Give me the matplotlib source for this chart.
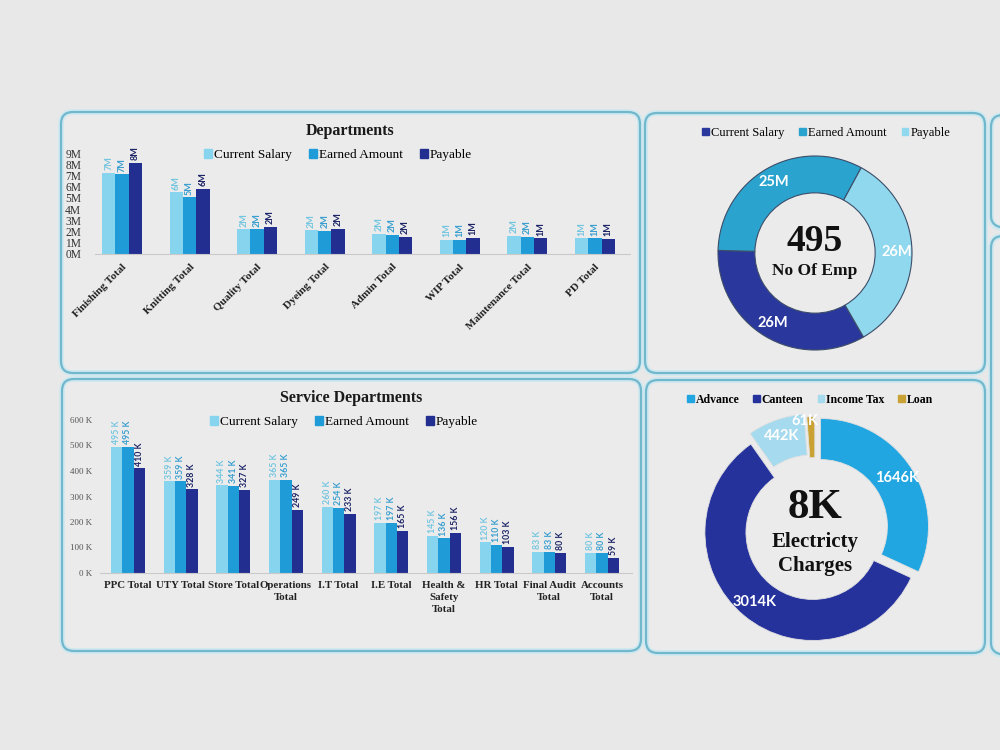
import matplotlib
matplotlib.use('Agg')
import matplotlib.pyplot as plt
from matplotlib.patches import FancyBboxPatch, Patch
import numpy as np

# ---------------- data ----------------
series_names = ["Current Salary", "Earned Amount", "Payable"]

dept_categories = ["Finishing Total", "Knitting Total", "Quality Total", "Dyeing Total",
                   "Admin Total", "WIP Total", "Maintenance Total", "PD Total"]
dept_current = [7.2, 5.5, 2.2, 2.1, 1.8, 1.25, 1.6, 1.4]
dept_earned = [7.1, 5.05, 2.2, 2.05, 1.7, 1.25, 1.55, 1.4]
dept_payable = [8.1, 5.8, 2.45, 2.25, 1.55, 1.45, 1.4, 1.38]
dept_current_lbl = ["7M", "6M", "2M", "2M", "2M", "1M", "2M", "1M"]
dept_earned_lbl = ["7M", "5M", "2M", "2M", "2M", "1M", "2M", "1M"]
dept_payable_lbl = ["8M", "6M", "2M", "2M", "2M", "1M", "1M", "1M"]
dept_yticks = [0, 1, 2, 3, 4, 5, 6, 7, 8, 9]
dept_yticklabels = ["0M", "1M", "2M", "3M", "4M", "5M", "6M", "7M", "8M", "9M"]

svc_categories = ["PPC Total", "UTY Total", "Store Total", "Operations\nTotal", "I.T Total",
                  "I.E Total", "Health &\nSafety\nTotal", "HR Total", "Final Audit\nTotal",
                  "Accounts\nTotal"]
svc_current = [495, 359, 344, 365, 260, 197, 145, 120, 83, 80]
svc_earned = [495, 359, 341, 365, 254, 197, 136, 110, 83, 80]
svc_payable = [410, 328, 327, 249, 233, 165, 156, 103, 80, 59]
svc_yticks = [0, 100, 200, 300, 400, 500, 600]
svc_yticklabels = ["0 K", "100 K", "200 K", "300 K", "400 K", "500 K", "600 K"]

emp_names = ["Current Salary", "Earned Amount", "Payable"]
emp_values = [26, 25, 26]
emp_labels = ["26M", "25M", "26M"]
emp_count = "495"
emp_caption = "No Of Emp"

ded_names = ["Advance", "Canteen", "Income Tax", "Loan"]
ded_values = [1646, 3014, 442, 61]
ded_labels = ["1646K", "3014K", "442K", "61K"]
elec_value = "8K"
elec_caption = "Electricty\nCharges"

# ---------------- style ----------------
BG = '#e8e8e8'
PANEL = '#ebebeb'
C_CUR = '#86d4ee'
C_EARN = '#1f9bd7'
C_PAY = '#222f90'
SERIF = 'Liberation Serif'
SANS = 'Lato'

fig = plt.figure(figsize=(10, 7.5), dpi=100, facecolor=BG)


def frac(x0, y0, x1, y1):
    return [x0 / 1000, 1 - y1 / 750, (x1 - x0) / 1000, (y1 - y0) / 750]


# background panels
bg = fig.add_axes([0, 0, 1, 1], zorder=0)
bg.set_xlim(0, 1000)
bg.set_ylim(750, 0)
bg.axis('off')


def panel(x0, y0, x1, y1):
    bg.add_patch(FancyBboxPatch((x0, y0), x1 - x0, y1 - y0,
                                boxstyle="round,pad=0,rounding_size=12",
                                fc=PANEL, ec='#cde8f0', lw=4))
    bg.add_patch(FancyBboxPatch((x0, y0), x1 - x0, y1 - y0,
                                boxstyle="round,pad=0,rounding_size=12",
                                fc='none', ec='#72b8cc', lw=1.6))


panel(61, 112, 640, 373)
panel(645, 113, 985, 373)
panel(62, 379, 641, 651)
panel(646, 380, 985, 653)
panel(991, 115, 1020, 228)
panel(991, 236, 1020, 655)


def style_bar_axes(ax):
    ax.set_facecolor('none')
    for s in ['top', 'right', 'left']:
        ax.spines[s].set_visible(False)
    ax.spines['bottom'].set_color('#c9c9c9')
    ax.spines['bottom'].set_linewidth(0.8)
    ax.tick_params(length=0)


# ---------------- Departments ----------------
ax1 = fig.add_axes(frac(95, 153, 630, 254), zorder=1)
style_bar_axes(ax1)
x = np.arange(len(dept_categories))
w = 0.197
b1 = ax1.bar(x - w, dept_current, w, color=C_CUR)
b2 = ax1.bar(x, dept_earned, w, color=C_EARN)
b3 = ax1.bar(x + w, dept_payable, w, color=C_PAY)
for bars, lbls, col in [(b1, dept_current_lbl, '#74c6e0'), (b2, dept_earned_lbl, '#3a9fcf'),
                        (b3, dept_payable_lbl, '#1c2466')]:
    for t in ax1.bar_label(bars, labels=lbls, rotation=90, padding=2, fontsize=6.5,
                           color=col, family=SANS, fontweight='bold'):
        t.set_clip_on(False)
ax1.set_xlim(-0.4, 7.52)
ax1.set_ylim(0, 9)
ax1.set_yticks(dept_yticks)
ax1.set_yticklabels(dept_yticklabels, family=SERIF, fontsize=8.3, color='#333333')
ax1.tick_params(axis='y', pad=10)
ax1.set_xticks(x)
ax1.set_xticklabels(dept_categories, rotation=45, ha='right', rotation_mode='anchor',
                    family=SERIF, fontsize=8, fontweight='bold', color='#222222')
ax1.tick_params(axis='x', pad=6)
fig.text(350 / 1000, 1 - 131 / 750, "Departments", ha='center', va='center',
         family=SERIF, fontsize=11.5, fontweight='bold', color='#1a1a1a')
fig.legend(handles=[Patch(color=C_CUR), Patch(color=C_EARN), Patch(color=C_PAY)],
           labels=series_names, loc='center', bbox_to_anchor=(338 / 1000, 1 - 155 / 750),
           ncol=3, frameon=False, handlelength=0.6, handleheight=0.6, handletextpad=0.15,
           columnspacing=1.3, prop={'family': SERIF, 'size': 9.5})

# ---------------- Service Departments ----------------
ax2 = fig.add_axes(frac(100, 420, 632, 573), zorder=1)
style_bar_axes(ax2)
x2 = np.arange(len(svc_categories))
w2 = 0.215
s1 = ax2.bar(x2 - w2, svc_current, w2, color=C_CUR)
s2 = ax2.bar(x2, svc_earned, w2, color=C_EARN)
s3 = ax2.bar(x2 + w2, svc_payable, w2, color=C_PAY)
for bars, vals, col in [(s1, svc_current, '#74c6e0'), (s2, svc_earned, '#3a9fcf'),
                        (s3, svc_payable, '#1c2466')]:
    for t in ax2.bar_label(bars, labels=[f"{v} K" for v in vals], rotation=90, padding=2,
                           fontsize=6.3, color=col, family=SANS, fontweight='bold'):
        t.set_clip_on(False)
ax2.set_xlim(-0.53, 9.57)
ax2.set_ylim(0, 600)
ax2.set_yticks(svc_yticks)
ax2.set_yticklabels(svc_yticklabels, family=SERIF, fontsize=6.5, color='#555555')
ax2.tick_params(axis='y', pad=6)
ax2.set_xticks(x2)
ax2.set_xticklabels(svc_categories, family=SERIF, fontsize=7.8, fontweight='bold',
                    color='#222222', linespacing=1.4)
ax2.tick_params(axis='x', pad=6)
fig.text(351 / 1000, 1 - 398 / 750, "Service Departments", ha='center', va='center',
         family=SERIF, fontsize=11.5, fontweight='bold', color='#1a1a1a')
fig.legend(handles=[Patch(color=C_CUR), Patch(color=C_EARN), Patch(color=C_PAY)],
           labels=series_names, loc='center', bbox_to_anchor=(344 / 1000, 1 - 422 / 750),
           ncol=3, frameon=False, handlelength=0.6, handleheight=0.6, handletextpad=0.15,
           columnspacing=1.3, prop={'family': SERIF, 'size': 9.5})

# ---------------- Donut: No Of Emp ----------------
cx, cy, R, L = 815, 253, 97, 1.2
ax3 = fig.add_axes(frac(cx - R * L, cy - R * L, cx + R * L, cy + R * L), zorder=1)
emp_colors = ['#2a389e', '#2aa3cf', '#8fd8ee']
wedges, texts = ax3.pie(emp_values, colors=emp_colors, startangle=-60, counterclock=False,
                        radius=1, labels=emp_labels, labeldistance=0.84,
                        wedgeprops=dict(width=0.38, edgecolor='#3d4d68', linewidth=0.8),
                        textprops=dict(color='white', family=SANS, fontsize=10.5,
                                       fontweight='bold'))
for t in texts:
    t.set_ha('center')
    t.set_va('center')
ax3.set_xlim(-L, L)
ax3.set_ylim(-L, L)
ax3.set_aspect('equal')
ax3.axis('off')
ax3.text(0, 0.12, emp_count, ha='center', va='center', family=SERIF, fontsize=27,
         fontweight='bold', color='#111111')
ax3.text(0, -0.19, emp_caption, ha='center', va='center', family=SERIF, fontsize=12.5,
         fontweight='bold', color='#111111')
fig.legend(handles=[Patch(color=c) for c in emp_colors], labels=emp_names, loc='center',
           bbox_to_anchor=(826 / 1000, 1 - 133 / 750), ncol=3, frameon=False,
           handlelength=0.55, handleheight=0.55, handletextpad=0.15, columnspacing=1.2,
           prop={'family': SERIF, 'size': 9})

# ---------------- Donut: Electricity ----------------
cx, cy, R, L = 815, 530, 108, 1.25
ax4 = fig.add_axes(frac(cx - R * L, cy - R * L, cx + R * L, cy + R * L), zorder=1)
ded_colors = ['#22a6e2', '#26329c', '#a6daee', '#c9a233']
wedges2, texts2 = ax4.pie(ded_values, colors=ded_colors, startangle=90, counterclock=False,
                          radius=1, explode=[0.06, 0.03, 0.08, 0.05], labels=ded_labels,
                          labeldistance=0.84,
                          wedgeprops=dict(width=0.38, edgecolor='#e0e0e0', linewidth=0.6),
                          textprops=dict(color='white', family=SANS, fontsize=10.5,
                                         fontweight='bold'))
for t in texts2:
    t.set_ha('center')
    t.set_va('center')
# place the tiny Loan label just outside the ring, along its wedge direction
wl = wedges2[3]
ang = np.deg2rad((wl.theta1 + wl.theta2) / 2)
texts2[3].set_position((wl.center[0] + 0.96 * np.cos(ang) - 0.06, wl.center[1] + 0.96 * np.sin(ang)))
ax4.set_xlim(-L, L)
ax4.set_ylim(-L, L)
ax4.set_aspect('equal')
ax4.axis('off')
ax4.text(0, 0.20, elec_value, ha='center', va='center', family=SERIF, fontsize=31,
         fontweight='bold', color='#111111')
ax4.text(0, -0.22, elec_caption, ha='center', va='center', family=SERIF, fontsize=15,
         fontweight='bold', color='#111111', linespacing=1.3)
fig.legend(handles=[Patch(color=c) for c in ded_colors], labels=ded_names, loc='center',
           bbox_to_anchor=(810 / 1000, 1 - 400 / 750), ncol=4, frameon=False,
           handlelength=0.55, handleheight=0.55, handletextpad=0.15, columnspacing=1.2,
           prop={'family': SERIF, 'size': 8.5, 'weight': 'bold'})

fig.savefig('out.png', dpi=100, facecolor=BG)
